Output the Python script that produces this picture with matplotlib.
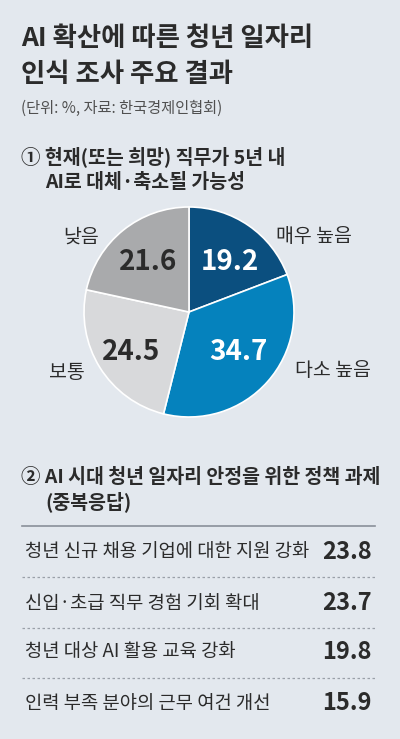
import matplotlib.pyplot as plt

# 데이터
pie_labels = ["매우 높음", "다소 높음", "보통", "낮음"]
pie_values = [19.2, 34.7, 24.5, 21.6]
pie_colors = ["#0B4F7F", "#0582BD", "#D8D9DB", "#A9AAAC"]
pie_text_colors = ["white", "white", "#2B2B2B", "#2B2B2B"]

policy_items = [
    "청년 신규 채용 기업에 대한 지원 강화",
    "신입·초급 직무 경험 기회 확대",
    "청년 대상 AI 활용 교육 강화",
    "인력 부족 분야의 근무 여건 개선",
]
policy_values = [23.8, 23.7, 19.8, 15.9]

BG = "#E3E8EE"
DARK = "#2B2B2B"
W, H = 400, 739

plt.rcParams['font.family'] = ['Noto Sans CJK KR', 'DejaVu Sans']

fig = plt.figure(figsize=(W / 100, H / 100), dpi=100)
fig.patch.set_facecolor(BG)


def px(x, y):
    # 픽셀 좌표 -> figure 좌표
    return x / W, 1 - y / H


def txt(x, y, s, **kw):
    fx, fy = px(x, y)
    fig.text(fx, fy, s, va="center", color=kw.pop("color", DARK), **kw)


# 제목
txt(21, 39, "AI 확산에 따른 청년 일자리", fontsize=19, fontweight="bold")
txt(21, 74, "인식 조사 주요 결과", fontsize=19, fontweight="bold")
txt(21, 108, "(단위: %, 자료: 한국경제인협회)", fontsize=11, color="#505050")

# ① 파이 차트
txt(21, 157, "① 현재(또는 희망) 직무가 5년 내", fontsize=14, fontweight="bold")
txt(45, 183, "AI로 대체·축소될 가능성", fontsize=14, fontweight="bold")

cx, cy, r = 189, 312, 105
ax = fig.add_axes([(cx - r) / W, 1 - (cy + r) / H, 2 * r / W, 2 * r / H])
wedges, _ = ax.pie(pie_values, colors=pie_colors, startangle=90, counterclock=False,
                   wedgeprops=dict(edgecolor="white", linewidth=1.2))
ax.set_aspect("equal")
ax.set_xlim(-1, 1)
ax.set_ylim(-1, 1)
ax.axis("off")

# 값 라벨 (슬라이스 안)
val_pos = [(230, 262), (238, 352), (131, 352), (148, 262)]
for (x, y), v, c in zip(val_pos, pie_values, pie_text_colors):
    txt(x, y, f"{v}", fontsize=20, fontweight="heavy", color=c, ha="center")

# 항목 라벨 (바깥)
lab_pos = [(314, 236), (333, 370), (67, 372), (81, 237)]
for (x, y), s in zip(lab_pos, pie_labels):
    txt(x, y, s, fontsize=14, ha="center")

# ② 정책 과제 표
txt(21, 477, "② AI 시대 청년 일자리 안정을 위한 정책 과제", fontsize=14, fontweight="bold")
txt(45, 502, "(중복응답)", fontsize=14, fontweight="bold")

x0, x1 = px(22, 0)[0], px(375, 0)[0]
fig.add_artist(plt.Line2D([x0, x1], [px(0, 526)[1]] * 2, color="#8A9099", linewidth=1.2))

row_y = [552, 603, 652, 703]
for i, (s, v) in enumerate(zip(policy_items, policy_values)):
    txt(25, row_y[i], s, fontsize=13.5)
    txt(372, row_y[i], f"{v}", fontsize=17, fontweight="heavy", ha="right")

for y in [577, 628, 678]:
    fig.add_artist(plt.Line2D([x0, x1], [px(0, y)[1]] * 2, color="#9AA0A8",
                              linewidth=0.9, linestyle=(0, (2, 2))))

fig.savefig("out.png", dpi=100, facecolor=BG)
